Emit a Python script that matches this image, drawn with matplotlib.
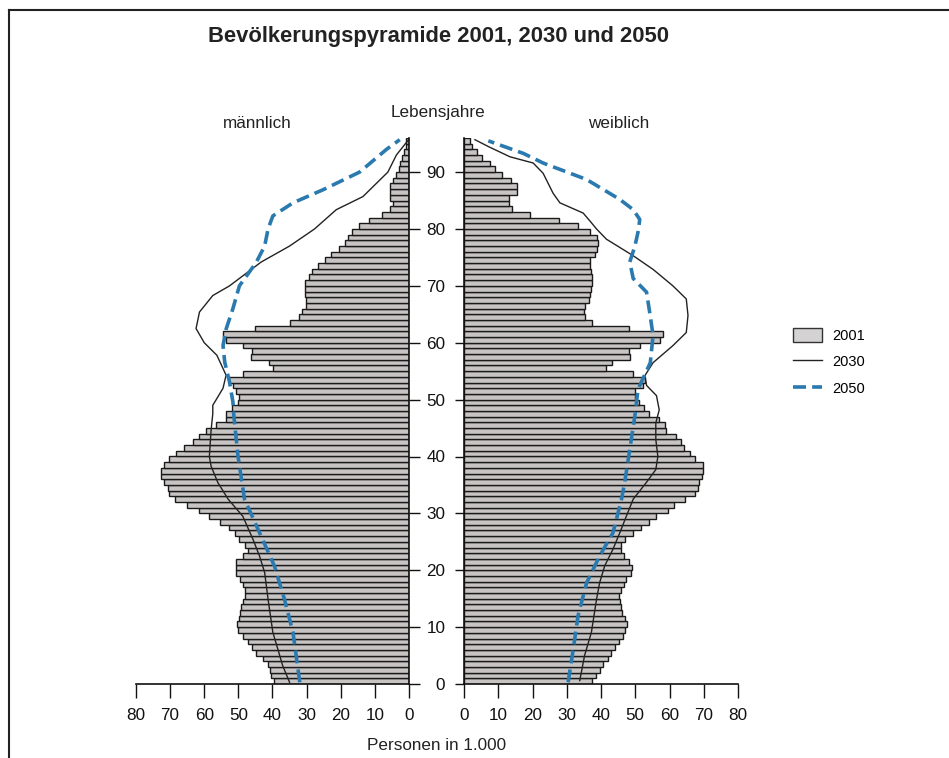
import matplotlib
matplotlib.use("Agg")
import matplotlib.pyplot as plt
import numpy as np
from matplotlib.lines import Line2D
from matplotlib.patches import Patch

plt.rcParams['font.family'] = ['Liberation Sans', 'DejaVu Sans']

ages = list(range(0, 96))

male_2001 = [39.7, 40.4, 40.7, 41.3, 42.8, 44.8, 45.9, 47.2, 48.7, 50.1,
             50.4, 49.9, 49.5, 49.2, 48.7, 48.2, 48.2, 48.7, 49.5, 50.6,
             50.8, 50.6, 48.7, 47.2, 48.2, 49.7, 51.1, 52.8, 55.5, 58.7,
             61.4, 65.1, 68.7, 70.2, 70.7, 71.7, 72.6, 72.6, 71.9, 70.4,
             68.2, 65.8, 63.3, 61.4, 59.4, 56.7, 53.6, 53.6, 51.8, 50.1,
             49.9, 50.6, 51.6, 52.8, 48.7, 39.9, 41.1, 46.2, 45.9, 48.7,
             53.6, 54.5, 45.0, 35.0, 32.3, 31.3, 30.1, 30.3, 30.6, 30.6,
             30.6, 29.3, 28.3, 26.7, 24.7, 22.8, 20.5, 18.9, 17.9, 16.6,
             14.7, 11.7, 7.8, 5.7, 4.7, 5.5, 5.7, 5.5, 4.7, 3.7,
             2.9, 2.5, 2.0, 1.6, 1.0, 0.8]

female_2001 = [37.4, 38.6, 39.6, 40.7, 42.0, 43.0, 44.2, 45.4, 46.4, 47.1,
               47.5, 47.1, 46.2, 45.9, 45.6, 45.4, 45.9, 46.8, 47.3, 48.8,
               49.1, 48.3, 46.6, 45.9, 45.9, 47.1, 49.3, 51.7, 53.9, 56.1,
               59.5, 61.4, 64.6, 67.5, 68.2, 68.7, 69.5, 69.9, 69.7, 67.5,
               66.0, 64.3, 63.4, 61.9, 59.0, 58.8, 56.9, 53.9, 52.7, 51.2,
               49.9, 49.9, 52.3, 52.8, 49.4, 41.4, 43.1, 48.6, 48.2, 51.3,
               57.1, 58.1, 48.2, 37.5, 35.3, 35.1, 35.3, 36.5, 36.7, 37.2,
               37.5, 37.5, 37.2, 36.9, 36.9, 38.2, 38.7, 39.2, 38.7, 36.7,
               33.3, 27.7, 19.2, 13.9, 13.2, 13.2, 15.4, 15.4, 13.7, 11.0,
               9.0, 7.6, 5.2, 3.7, 2.2, 1.7]

male_2030_age = [0.3, 3.2, 9.1, 14.9, 19.6, 22.5, 25.4, 29.5, 32.5, 35.4, 38.3, 40, 44.6,
                 47.5, 49, 52, 54.3, 57.8, 60, 62.5, 65.4, 68.3, 70, 74.2, 77, 80,
                 83.4, 85.7, 90, 93, 95.8]
male_2030_val = [35.0, 37.0, 39.9, 41.3, 42.3, 43.8, 45.7, 48.7, 53.0, 56.0, 58.0, 58.5, 58.0,
                 57.5, 57.5, 54.5, 53.6, 56.3, 60.0, 62.4, 61.4, 57.5, 52.6, 43.3, 35.0, 27.7,
                 21.3, 13.5, 6.2, 3.7, 0.0]

male_2050_age = [0.3, 9.1, 14.9, 20.7, 26.6, 32.5, 40, 47.6, 49.6, 53.1, 56.6, 59.5, 62.4,
                 66, 70, 74.1, 77, 80, 82.3, 84.6, 86.9, 90, 94, 95.7]
male_2050_val = [32.0, 34.0, 36.5, 39.4, 43.8, 48.2, 50.1, 51.4, 51.6, 52.6, 54.0, 54.5, 53.6,
                 51.6, 49.7, 44.8, 42.3, 41.3, 39.9, 34.0, 25.2, 14.5, 6.6, 2.7]

female_2030_age = [0.6, 5, 9.1, 14.9, 17.8, 20.8, 23.7, 26.6, 29.5, 32.5, 35.4, 37.7, 40,
                   43, 45.9, 48.2, 50.7, 52.5, 54.2, 56.5, 59.5, 61.8, 64.8, 67.7, 70,
                   72.9, 75.3, 78.2, 80, 81.1, 82.8, 84.6, 86.3, 89.8, 91.6, 92.7, 94.5, 95.7]
female_2030_val = [33.8, 35.2, 37.2, 38.7, 39.6, 41.1, 43.5, 45.5, 47.4, 49.4, 53.2, 56.0, 56.6,
                   56.0, 56.0, 57.0, 56.2, 53.3, 52.8, 55.2, 61.0, 64.9, 65.4, 64.9, 61.0,
                   55.2, 49.4, 41.6, 38.7, 37.2, 34.8, 28.0, 26.0, 23.1, 20.2, 13.4, 7.1, 3.2]

female_2050_age = [0.3, 6.1, 12, 17.8, 22.5, 26.6, 32.5, 35.4, 41.2, 47.2, 51.8, 56.5, 61.3,
                   65.4, 68.9, 71.3, 74.2, 77, 80, 81.7, 83.4, 85.2, 88.7, 91.6, 93.3, 95.5]
female_2050_val = [30.4, 31.9, 33.3, 35.8, 39.6, 43.5, 46.0, 46.9, 48.4, 49.9, 50.8, 54.4, 55.2,
                   54.2, 53.3, 49.4, 48.4, 49.9, 51.0, 51.3, 49.4, 45.5, 35.8, 23.1, 17.3, 7.1]

xticks = [0, 10, 20, 30, 40, 50, 60, 70, 80]
yticks = [0, 10, 20, 30, 40, 50, 60, 70, 80, 90]

W, H = 949, 758
fig = plt.figure(figsize=(W / 100, H / 100), dpi=100)

def fx(px):
    return px / W

def fy(py):
    return 1 - py / H

FS = 12.3
TXT = '#222222'
BLUE = '#2a7ab0'
DASH = (3.6, 1.7)

ax_bottom = fy(684)
ax_h = (684 - 138) / H
axL = fig.add_axes([fx(136), ax_bottom, (409 - 136) / W, ax_h])
axR = fig.add_axes([fx(464), ax_bottom, (738 - 464) / W, ax_h])

bar_kw = dict(height=1.0, align='edge', color='#c8c4c4', edgecolor='#1a1a1a', linewidth=1.0)
axL.barh(ages, male_2001, **bar_kw)
axR.barh(ages, female_2001, **bar_kw)

axL.plot(male_2030_val, male_2030_age, color='#222222', lw=1.0)
axL.plot(male_2050_val, male_2050_age, color=BLUE, lw=2.6, dashes=DASH)
axR.plot(female_2030_val, female_2030_age, color='#222222', lw=1.0)
axR.plot(female_2050_val, female_2050_age, color=BLUE, lw=2.6, dashes=DASH)

for ax in (axL, axR):
    ax.set_ylim(0, 96)
    ax.set_xticks(xticks)
    ax.set_xticklabels([str(t) for t in xticks])
    ax.spines['top'].set_visible(False)
    ax.tick_params(axis='x', direction='out', length=10, width=1.0, pad=7, labelsize=FS, colors='#111111')
    ax.tick_params(axis='y', direction='out', width=1.0, labelsize=FS, colors='#111111')
    for s in ax.spines.values():
        s.set_linewidth(1.2)
        s.set_color('#111111')

axL.set_xlim(80, 0)
axL.spines['left'].set_visible(False)
axL.yaxis.tick_right()
axL.set_yticks(yticks)
axL.set_yticklabels([])
axL.tick_params(axis='y', length=8)

axR.set_xlim(0, 80)
axR.spines['right'].set_visible(False)
axR.set_yticks(yticks)
axR.set_yticklabels([str(t) for t in yticks])
axR.tick_params(axis='y', length=6.5, pad=7)

fig.text(fx(439), fy(42), 'Bevölkerungspyramide 2001, 2030 und 2050', ha='center', va='baseline',
         fontsize=15.8, fontweight='bold', color=TXT)
fig.text(fx(257), fy(124), 'männlich', ha='center', va='center', fontsize=FS, color=TXT)
fig.text(fx(438), fy(113), 'Lebensjahre', ha='center', va='center', fontsize=FS, color=TXT)
fig.text(fx(619), fy(124), 'weiblich', ha='center', va='center', fontsize=FS, color=TXT)
fig.text(fx(437), fy(745), 'Personen in 1.000', ha='center', va='center', fontsize=FS, color=TXT)

handles = [Patch(facecolor='#d4d2d2', edgecolor='#333333', linewidth=1.0, label='2001'),
           Line2D([], [], color='#222222', lw=1.0, label='2030'),
           Line2D([], [], color=BLUE, lw=2.6, dashes=DASH, label='2050')]
fig.legend(handles=handles, loc='center left', bbox_to_anchor=(fx(793), fy(362)),
           frameon=False, fontsize=10.5, handlelength=2.0, handleheight=1.05, labelspacing=0.8,
           handletextpad=0.7, borderpad=0, borderaxespad=0)

fig.add_artist(Line2D([fx(9), fx(9)], [0, fy(10)], color='#222222', lw=1.5, transform=fig.transFigure))
fig.add_artist(Line2D([fx(9), 1], [fy(10), fy(10)], color='#222222', lw=1.5, transform=fig.transFigure))

fig.savefig('out.png', dpi=100)
